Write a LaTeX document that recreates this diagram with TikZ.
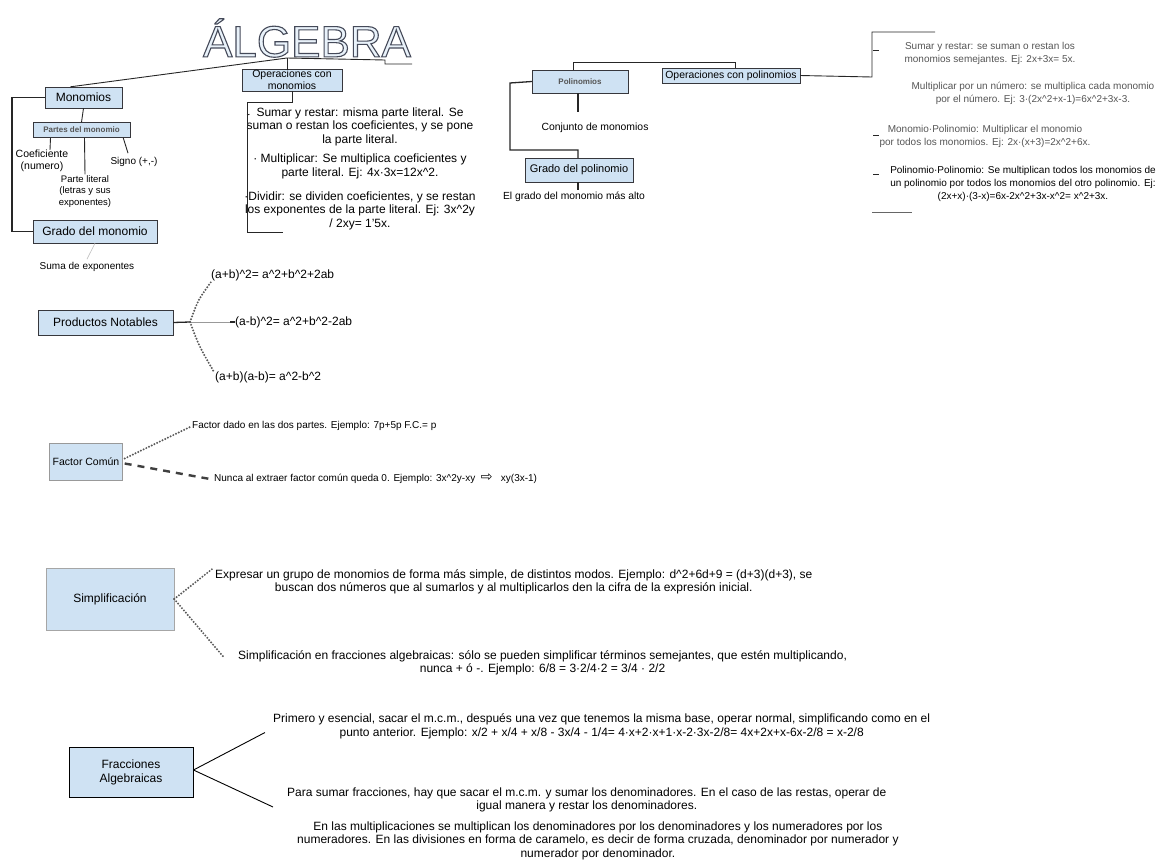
\documentclass[tikz,border=0pt]{standalone}
\usepackage{fontspec}
\setmainfont{Liberation Sans}
\newfontfamily\symfont{DejaVu Sans}
\usepackage{tikz}
\usetikzlibrary{calc}
\definecolor{boxblue}{RGB}{207,226,243}
\definecolor{edgegrey}{RGB}{55,55,60}
\definecolor{titlegrey}{RGB}{70,75,90}
\definecolor{blurgrey}{RGB}{85,85,85}
\newcommand{\outlined}[1]{\special{pdf:literal direct 2 Tr 1.1 w 0.27 0.29 0.35 RG}#1\special{pdf:literal direct 0 Tr}}

\begin{document}
\begin{tikzpicture}[x=1pt,y=-1pt,
  mbox/.style={draw=edgegrey, fill=boxblue, align=center, inner sep=1pt, font=\fontsize{12}{14}\selectfont},
  leaf/.style={align=center, inner sep=0pt, font=\fontsize{10.4}{12}\selectfont},
  para/.style={align=center, inner sep=0pt, font=\fontsize{12}{13.4}\selectfont},
  small/.style={align=center, inner sep=0pt, font=\fontsize{10}{13}\selectfont},
  title/.style={inner sep=0pt, font=\fontsize{44}{44}\selectfont},
  link/.style={draw=black!85, line width=0.9pt},
  dotlink/.style={draw=black!65, line width=2.2pt, line cap=round, dash pattern=on 0pt off 3pt},
  dashlink/.style={draw=black!75, line width=2.4pt, dash pattern=on 7pt off 6pt}]
\useasboundingbox (0,0) rectangle (1176,865);

% title
\node[title, text=boxblue!45] (alg) at (307,38) {\outlined{ÁLGEBRA}};
\coordinate (jt) at (287,58);
\coordinate (cut) at (412,64);

% monomios
\node[mbox, minimum width=77, minimum height=21] (mono) at (83.5,97.5) {Monomios};
\node[mbox, minimum width=97, minimum height=15, text=blurgrey, font=\bfseries\fontsize{8}{10}\selectfont] (partes) at (81.5,130) {Partes del monomio};
\node[leaf, font=\fontsize{10.5}{12}\selectfont] (coef) at (42,161) {Coeficiente\\(numero)};
\node[leaf, font=\fontsize{9.5}{11.5}\selectfont] (plit) at (85,191.5) {Parte literal\\(letras y sus\\exponentes)};
\node[leaf, font=\fontsize{10}{12}\selectfont] (signo) at (134,162) {Signo (+,-)};
\node[mbox, minimum width=124, minimum height=23] (gradom) at (95,231.5) {Grado del monomio};
\node[leaf, font=\fontsize{10}{12}\selectfont] (sumexp) at (87,267) {Suma de exponentes};
\draw[link] (jt) -- ($(mono.north)+(-13,0)$);
\draw[link, line width=1.3pt] (mono.west) -- (12,97.5) |- (gradom.west);
\draw[link] (mono.south) -- (partes.north);
\draw[link] ($(partes.south)+(-31,0)$) -- ($(coef.north)+(8,0)$);
\draw[link] ($(partes.south)+(3,0)$) -- ($(plit.north)+(0,-1)$);
\draw[link] ($(partes.south east)+(-7,0)$) -- ($(signo.north)+(-6,-4)$);
\draw[black!25, line width=0.6pt] (gradom.south) -- ($(sumexp.north)+(0,-3)$);

% operaciones con monomios
\node[mbox, minimum width=100, minimum height=22, font=\fontsize{10.5}{12}\selectfont] (opmono) at (292,80) {Operaciones con\\monomios};
\draw[link] (jt) -- (jt |- opmono.north);
\draw[link] (jt) -- (385,60) -- (385,64) -- (cut);
\node[para] (om1) at (360,126.5) {Sumar y restar: misma parte literal. Se\\suman o restan los coeficientes, y se pone\\la parte literal.};
\node[para] (om2) at (360,166.5) {· Multiplicar: Se multiplica coeficientes y\\parte literal. Ej: 4x·3x=12x\^{}2.};
\node[para] (om3) at (360,210.5) {·Dividir: se dividen coeficientes, y se restan\\los exponentes de la parte literal. Ej: 3x\^{}2y\\/ 2xy= 1'5x.};
\draw[link] (opmono.south) -- (292,102) -| (247,232) -- (283,232);
\draw[link] (247,115) -- ($(om1.north west)+(3,7)$);

% polinomios
\node[mbox, minimum width=96, minimum height=23, text=blurgrey, font=\bfseries\fontsize{8}{10}\selectfont] (poli) at (580,81.5) {Polinomios};
\node[mbox, minimum width=138, minimum height=15, font=\fontsize{10.4}{12}\selectfont] (opol) at (731,75.5) {Operaciones con polinomios};
\node[leaf] (conj) at (595,128) {Conjunto de monomios};
\node[mbox, minimum width=108, minimum height=24, font=\fontsize{11}{13}\selectfont] (gradpol) at (579,170) {Grado del polinomio};
\node[leaf, font=\fontsize{10.3}{12}\selectfont] (elgrado) at (574,197) {El grado del monomio más alto};
\coordinate (pj) at (573,62);
\coordinate (pk) at (735,62);
\coordinate (pl) at (578,150);
\draw[link] (pj) -- (pj |- poli.north);
\draw[link] (pj) -- (pk) -- (pk |- opol.north);
\draw[link, line width=1.3pt] (poli.west) -- (510,83) |- (pl) -- (pl |- gradpol.north);
\draw[link, line width=1.3pt] (pl |- poli.south) -- (578,112);
\draw[link, line width=1.3pt] (pl |- gradpol.south) -- (578,190);

% operaciones con polinomios
\node[small, text=blurgrey] (op1) at (990,53) {Sumar y restar: se suman o restan los\\monomios semejantes. Ej: 2x+3x= 5x.};
\node[small, text=blurgrey] (op2) at (1033,93) {Multiplicar por un número: se multiplica cada monomio\\por el número. Ej: 3·(2x\^{}2+x-1)=6x\^{}2+3x-3.};
\node[small, text=blurgrey] (op3) at (985,136.5) {Monomio·Polinomio: Multiplicar el monomio\\por todos los monomios. Ej: 2x·(x+3)=2x\^{}2+6x.};
\node[small] (op4) at (1023,184) {Polinomio·Polinomio: Se multiplican todos los monomios de\\un polinomio por todos los monomios del otro polinomio. Ej:\\(2x+x)·(3-x)=6x-2x\^{}2+3x-x\^{}2= x\^{}2+3x.};
\draw[link] (opol.east) -- (872,77) -- (872,32) -- (935,32);
\foreach \n/\y in {op1/50, op3/135, op4/174}{\draw[link] (873,\y) -- (879,\y);}
\draw[link, black!60] (872,212) -- (912,212);

% productos notables
\node[mbox, minimum width=135, minimum height=25] (prod) at (105.5,322.5) {Productos Notables};
\node[para, anchor=west] (pn1) at (211,275) {(a+b)\^{}2= a\^{}2+b\^{}2+2ab};
\node[para, anchor=west] (pn2) at (235,322) {(a-b)\^{}2= a\^{}2+b\^{}2-2ab};
\node[para, anchor=west] (pn3) at (215,377) {(a+b)(a-b)= a\^{}2-b\^{}2};
\coordinate (pj2) at (190,322);
\draw[link, line width=1.3pt] (prod.east) -- (pj2);
\draw[black!40, line width=0.6pt] (pj2) -- ($(pn2.west)+(-5,0)$);
\draw[link, line width=1.4pt] ($(pn2.west)+(-5,0)$) -- (pn2.west);
\draw[dotlink] (pj2) .. controls (198,300) .. ($(pn1.west)+(0,7)$);
\draw[dotlink] (pj2) .. controls (199,346) .. ($(pn3.west)+(-1,-5)$);

% factor comun
\node[mbox, minimum width=73, minimum height=37, draw=black!40, font=\fontsize{10.5}{12}\selectfont] (fcom) at (86,461.5) {Factor Común};
\node[leaf, anchor=west, font=\fontsize{10}{12}\selectfont] (fc1) at (192,426) {Factor dado en las dos partes. Ejemplo: 7p+5p F.C.= p};
\node[leaf, anchor=west, font=\fontsize{10}{12}\selectfont] (fc2) at (214,479) {Nunca al extraer factor común queda 0. Ejemplo: 3x\^{}2y-xy\ \ {\symfont\fontsize{14}{14}\selectfont ⇨}\ \ \ xy(3x-1)};
\draw[dotlink] ($(fcom.east)+(2,-3)$) -- ($(fc1.west)+(-2,1)$);
\draw[dashlink] ($(fcom.east)+(2,2)$) -- ($(fc2.west)+(-4,0)$);

% simplificacion
\node[mbox, minimum width=128, minimum height=62, draw=black!35] (simp) at (110,599) {Simplificación};
\node[para, anchor=west, font=\fontsize{12}{13}\selectfont] (s1) at (215,581.5) {Expresar un grupo de monomios de forma más simple, de distintos modos. Ejemplo: d\^{}2+6d+9 = (d+3)(d+3), se\\buscan dos números que al sumarlos y al multiplicarlos den la cifra de la expresión inicial.};
\node[para, anchor=west, font=\fontsize{12}{13}\selectfont] (s2) at (238,662.5) {Simplificación en fracciones algebraicas: sólo se pueden simplificar términos semejantes, que estén multiplicando,\\nunca + ó -. Ejemplo: 6/8 = 3·2/4·2 = 3/4 · 2/2};
\draw[dotlink] (simp.east) -- ($(s1.north west)+(-3,0)$);
\draw[dotlink] (simp.east) -- ($(s2.west)+(-14,-5)$);

% fracciones algebraicas
\node[mbox, minimum width=124, minimum height=50, draw=black, line width=1pt] (frac) at (131,772) {Fracciones\\Algebraicas};
\node[para, anchor=west] (f1) at (273,726.5) {Primero y esencial, sacar el m.c.m., después una vez que tenemos la misma base, operar normal, simplificando como en el\\punto anterior. Ejemplo: x/2 + x/4 + x/8 - 3x/4 - 1/4= 4·x+2·x+1·x-2·3x-2/8= 4x+2x+x-6x-2/8 = x-2/8};
\node[para, anchor=west] (f2) at (287,800) {Para sumar fracciones, hay que sacar el m.c.m. y sumar los denominadores. En el caso de las restas, operar de\\igual manera y restar los denominadores.};
\node[para, anchor=west] (f3) at (297,840.5) {En las multiplicaciones se multiplican los denominadores por los denominadores y los numeradores por los\\numeradores. En las divisiones en forma de caramelo, es decir de forma cruzada, denominador por numerador y\\numerador por denominador.};
\draw[black, line width=0.9pt] ($(frac.east)+(0,-2)$) -- ($(f1.west)+(-8,6)$);
\draw[black, line width=0.9pt] ($(frac.east)+(0,-2)$) -- ($(f2.west)+(-14,7)$);
\end{tikzpicture}
\end{document}
